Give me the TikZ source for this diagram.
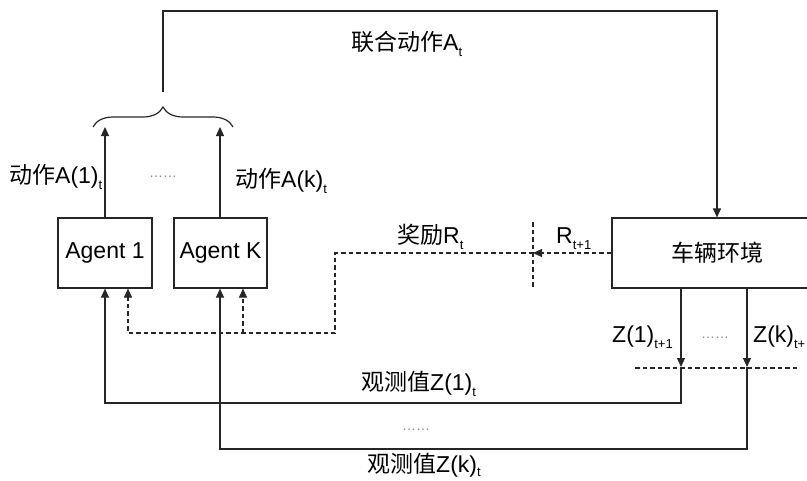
\documentclass[tikz,border=0pt]{standalone}
\usepackage{fontspec}
\setmainfont{Liberation Sans}
\newfontfamily\cjk{Noto Sans CJK SC}
\usetikzlibrary{arrows.meta,decorations.pathreplacing}
\newcommand\lsub[2][-6pt]{\raisebox{#1}{\fontsize{13}{13}\selectfont #2}}
\begin{document}
\begin{tikzpicture}[x=1pt,y=-1pt,
  line/.style={draw=black!85, line width=1.2pt},
  arr/.style={line, -{Triangle[width=8pt,length=9pt]}},
  dsh/.style={dash pattern=on 4.5pt off 3pt, line width=1.1pt},
  box/.style={draw=black!85, line width=1.2pt, minimum height=70pt, inner sep=0pt, font=\fontsize{23}{27}\selectfont},
  lab/.style={anchor=base west, inner sep=0pt, font=\fontsize{23}{27}\selectfont},
  dots/.style={inner sep=0pt, text=black!45, font=\fontsize{14}{14}\selectfont}]
\useasboundingbox (0,0) rectangle (807,480);
\clip (0,0) rectangle (807,480);
% boxes
\node[box, minimum width=94pt] (a1) at (105,253) {Agent 1};
\node[box, minimum width=93pt] (ak) at (220.5,253) {Agent K};
\node[box, minimum width=210pt] (env) at (717,253) {\cjk 车辆环境};
% action arrows and brace
\coordinate (a1top) at (105,127);
\coordinate (aktop) at (220,127);
\draw[arr] (a1.north) -- (a1top);
\draw[arr] (aktop |- ak.north) -- (aktop);
\coordinate (bl) at (93,127);
\coordinate (br) at (233,127);
\draw[line, decorate, decoration={brace, amplitude=20pt}] (bl) -- (br);
\coordinate (bt) at (163,92);
\coordinate (tc) at (163,11);
\draw[arr] (bt) -- (tc) -| (env.north);
% reward
\coordinate (rm) at (533,253);
\coordinate (rc) at (335,253);
\coordinate (rb) at (335,333);
\coordinate (r1) at (128,333);
\coordinate (rk) at (243,333);
\draw[arr, dsh] (env.west) -- (rm);
\draw[arr, dsh] (rm) -- (rc) -- (rb) -- (r1) -- (r1 |- a1.south);
\draw[arr, dsh] (rk) -- (rk |- ak.south);
\coordinate (vt) at (533,222);
\coordinate (vb) at (533,288);
\draw[line, dsh] (vt) -- (vb);
% observations
\coordinate (z1) at (681,367);
\coordinate (zk) at (747,367);
\coordinate (z1b) at (681,403);
\coordinate (zkb) at (747,449);
\draw[arr] (z1 |- env.south) -- (z1);
\draw[arr] (zk |- env.south) -- (zk);
\draw[arr] (z1) -- (z1b) -| (a1.south);
\draw[arr] (zk) -- (zkb) -| (aktop |- ak.south);
\coordinate (hl) at (635,368);
\coordinate (hr) at (797,368);
\draw[line, dsh] (hl) -- (hr);
% labels
\node[lab] (lA) at (351,50) {{\cjk 联合动作}A\lsub{t}};
\node[lab] (lA1) at (9,183) {{\cjk 动作}A(1)\lsub{t}};
\node[lab] (lAk) at (235,187) {{\cjk 动作}A(k)\lsub{t}};
\node[dots] (d1) at (163,177) {……};
\node[lab] (lR) at (397,243) {{\cjk 奖励}R\lsub{t}};
\node[lab] (lR1) at (556,243) {R\lsub{t+1}};
\node[lab] (lZ1) at (612,342) {Z(1)\lsub{t+1}};
\node[dots] (d2) at (715,338) {……};
\node[lab] (lZk) at (753,342) {Z(k)\lsub{t+}};
\node[lab] (lO1) at (361,390) {{\cjk 观测值}Z(1)\lsub{t}};
\node[dots] (d3) at (416,430) {……};
\node[lab] (lOk) at (367,472) {{\cjk 观测值}Z(k)\lsub[-4pt]{t}};
\end{tikzpicture}
\end{document}
